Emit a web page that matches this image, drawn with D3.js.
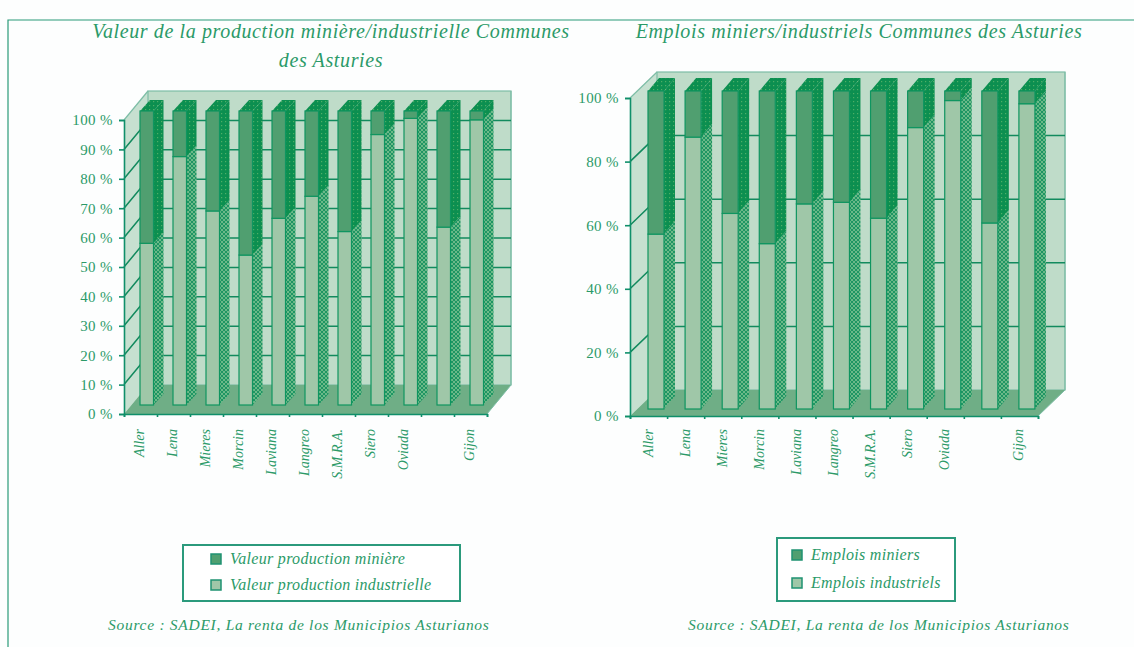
<!DOCTYPE html>
<html><head><meta charset="utf-8">
<script src="https://cdn.jsdelivr.net/npm/d3@7/dist/d3.min.js"></script>
<style>html,body{margin:0;padding:0;background:#fff;overflow:hidden}svg{display:block}
text{font-family:"Liberation Serif",serif;fill:#2b9a68}</style></head><body>
<svg id="c" width="1134" height="647"></svg>
<script>
const categoriesLeft = ["Aller","Lena","Mieres","Morcin","Laviana","Langreo","S.M.R.A.","Siero","Oviada","","Gijon"];
const industrialValue = [55,84.5,66,51,63.5,71,59,92,97.5,60.5,97];
const industrialJobs = [55,85.5,61.5,52,64.5,65,60,88.5,97,58.5,96];
const ticksLeft = [0,10,20,30,40,50,60,70,80,90,100];
const ticksRight = [0,20,40,60,80,100];
const titleLeft = ["Valeur de la production minière/industrielle Communes","des Asturies"];
const titleRight = ["Emplois miniers/industriels Communes des Asturies"];
const legendLeft = ["Valeur production minière","Valeur production industrielle"];
const legendRight = ["Emplois miniers","Emplois industriels"];
const sourceParts = ["Source : SADEI, ","La renta de los Municipios Asturianos"];

const svg = d3.select("#c");
const defs = svg.append("defs");
function pat(id,bg,fn){const p=defs.append("pattern").attr("id",id).attr("width",4).attr("height",4).attr("patternUnits","userSpaceOnUse");
  p.append("rect").attr("width",4).attr("height",4).attr("fill",bg);fn(p);}
pat("dots","#0c8f50",p=>{p.append("rect").attr("x",1).attr("y",1).attr("width",1.2).attr("height",1.2).attr("fill","#4fae66");});
pat("cross","#1f9563",p=>{p.append("path").attr("d","M0 0L4 4M4 0L0 4").attr("stroke","#74bd8c").attr("stroke-width",0.9);});

const C={grid:"#128a5e",wall:"#bfdcc9",side:"#c6e0d0",floor:"#6fae86",top:"#509f70",low:"#9fc7a8",edge:"#0f9560",pale:"#7dbda6"};
svg.append("rect").attr("width",1134).attr("height",647).attr("fill","#fdfefe");
svg.append("path").attr("d","M8 647V20H1134").attr("fill","none").attr("stroke","#2b9a78").attr("stroke-width",1.2);

function chart(o){
  const g=svg.append("g");
  const y=d3.scaleLinear().domain([0,100]).range([o.y0,o.y1]);
  const x=d3.scaleBand().domain(d3.range(o.cats.length)).range([o.x0,o.x1]);
  const [dx,dy]=o.depth;
  // walls
  g.append("path").attr("d",`M${o.x0} ${y(0)}V${y(100)}L${o.x0+dx} ${y(100)+dy}V${y(0)+dy}Z`).attr("fill",C.side);
  g.append("rect").attr("x",o.x0+dx).attr("y",y(100)+dy).attr("width",o.x1-o.x0).attr("height",y(0)-y(100)).attr("fill",C.wall).attr("stroke",C.pale).attr("stroke-width",1.2);
  g.append("path").attr("d",`M${o.x0} ${y(0)}H${o.x1}L${o.x1+dx} ${y(0)+dy}H${o.x0+dx}Z`).attr("fill",C.floor);
  g.append("path").attr("d",`M${o.x1} ${y(0)}L${o.x1+dx} ${y(0)+dy}V${y(100)+dy}`).attr("fill","none").attr("stroke",C.pale).attr("stroke-width",1);
  // gridlines
  o.ticks.forEach(t=>{ if(t===0) return;
    if(t===100){
      g.append("path").attr("d",`M${o.x0} ${y(t)}L${o.x0+dx} ${y(t)+dy}`).attr("fill","none").attr("stroke",C.pale).attr("stroke-width",1.2);
      return;
    }
    g.append("path").attr("d",`M${o.x0} ${y(t)}L${o.x0+dx} ${y(t)+dy}H${o.x1+dx}`).attr("fill","none").attr("stroke",C.grid).attr("stroke-width",1.5);
  });
  // axes
  const ax=d3.axisLeft(y).tickValues(o.ticks).tickSize(5).tickPadding(6).tickFormat(d=>d+" %");
  const ag=g.append("g").attr("transform",`translate(${o.x0},0)`).call(ax);
  ag.selectAll("path,line").attr("stroke","#0f8f6a").attr("stroke-width",1.6);
  ag.selectAll("text").style("font-size",o.tickFont+"px").attr("letter-spacing",0.4).attr("fill","#2b9a68");
  const bx=d3.axisBottom(d3.scaleLinear().domain([0,o.cats.length]).range([o.x0,o.x1])).tickValues(d3.range(o.cats.length+1)).tickSize(3).tickFormat("");
  const bg=g.append("g").attr("transform",`translate(0,${y(0)})`).call(bx);
  bg.selectAll("path,line").attr("stroke","#0f8f6a").attr("stroke-width",1.6);
  // bars
  const fy=v=>y(v)+o.barShift[1];
  const b=o.barW,[sx,sy]=o.barDepth;
  o.vals.forEach((v,i)=>{
    const X=x(i)+o.barShift[0];
    const part=g.append("g");
    part.append("path").attr("d",`M${X+b} ${fy(0)}V${fy(v)}L${X+b+sx} ${fy(v)+sy}V${fy(0)+sy}Z`).attr("fill","url(#cross)");
    part.append("path").attr("d",`M${X+b} ${fy(v)}V${fy(100)}L${X+b+sx} ${fy(100)+sy}V${fy(v)+sy}Z`).attr("fill","url(#dots)");
    part.append("path").attr("d",`M${X} ${fy(100)}L${X+sx} ${fy(100)+sy}H${X+b+sx}L${X+b} ${fy(100)}Z`).attr("fill","url(#dots)");
    part.append("rect").attr("x",X).attr("y",fy(v)).attr("width",b).attr("height",fy(0)-fy(v)).attr("fill",C.low).attr("stroke",C.edge).attr("stroke-width",1.2);
    part.append("rect").attr("x",X).attr("y",fy(100)).attr("width",b).attr("height",fy(v)-fy(100)).attr("fill",C.top).attr("stroke",C.edge).attr("stroke-width",1.2);
  });
  // category labels
  o.cats.forEach((c,i)=>{
    if(!c) return;
    g.append("text").attr("transform",`translate(${x(i)+x.bandwidth()/2+o.labelDx+4},429) rotate(-90)`)
      .attr("text-anchor","end").attr("font-style","italic").style("font-size","14px").text(c);
  });
  // title
  o.title.forEach((t,i)=>{
    g.append("text").attr("x",o.titleX).attr("y",o.titleY+i*29).attr("text-anchor","middle").attr("font-style","italic")
      .style("font-size","20px").attr("letter-spacing",o.titleLs).text(t);
  });
  // legend
  const L=o.legend;
  g.append("rect").attr("x",L.x).attr("y",L.y).attr("width",L.w).attr("height",L.h).attr("fill","#fff").attr("stroke","#2b9a7c").attr("stroke-width",2);
  L.labels.forEach((t,i)=>{
    const yy=L.y+L.first+i*L.step;
    g.append("rect").attr("x",L.sx).attr("y",yy-9).attr("width",10).attr("height",10).attr("fill",i?C.low:C.top).attr("stroke","#1f9272").attr("stroke-width",1.5);
    g.append("text").attr("x",L.tx).attr("y",yy+1).attr("font-style","italic").style("font-size","16px").attr("letter-spacing",0.3).text(t);
  });
  // source
  const s=g.append("text").attr("x",o.srcX).attr("y",630).style("font-size","15.5px").attr("letter-spacing",0.72);
  s.append("tspan").attr("font-style","italic").text(sourceParts[0]);
  s.append("tspan").attr("font-style","italic").text(sourceParts[1]);
}
chart({cats:categoriesLeft,vals:industrialValue,ticks:ticksLeft,x0:124,x1:487,y0:414,y1:120,depth:[24,-29],
  barShift:[16,-9],barW:13.5,barDepth:[10,-11],tickFont:15,labelDx:-1,
  title:titleLeft,titleX:331,titleY:38,titleLs:0.62,srcX:108,
  legend:{x:183,y:545,w:277,h:56,first:18,step:26,sx:211,tx:230,labels:legendLeft}});
chart({cats:categoriesLeft,vals:industrialJobs,ticks:ticksRight,x0:630,x1:1038,y0:416,y1:98,depth:[27,-26],
  barShift:[18,-7],barW:16,barDepth:[11,-13],tickFont:15,labelDx:0,
  title:titleRight,titleX:859,titleY:38,titleLs:0.62,srcX:688,
  legend:{x:777,y:538,w:178,h:63,first:21,step:28,sx:792,tx:811,labels:legendRight}});
</script></body></html>
